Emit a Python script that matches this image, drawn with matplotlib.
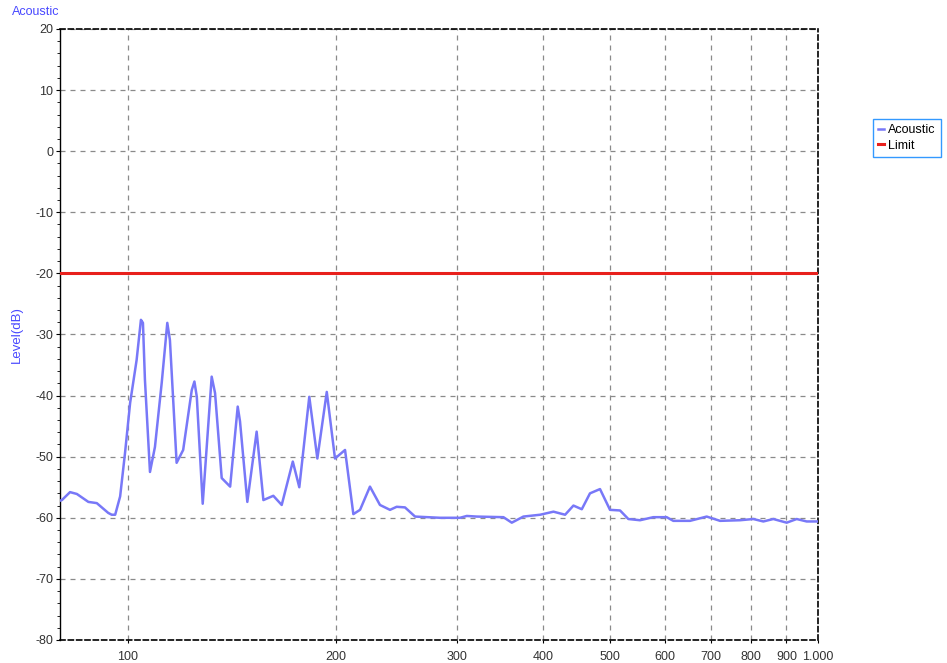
import matplotlib.pyplot as plt
from matplotlib.ticker import FixedLocator, MultipleLocator, NullFormatter

plt.rcParams['font.family'] = ['Liberation Sans', 'DejaVu Sans']
plt.rcParams['axes.unicode_minus'] = False

# measured spectrum (Hz, dB)
freq = [79.7, 80.2, 82.4, 84.3, 87.6, 90.1, 93.6, 94.7, 95.8, 97.4, 99.0,
        100.7, 102.9, 104.4, 105.1, 105.8, 107.6, 109.4, 111.9, 114.0, 115.0,
        117.6, 120.2, 123.7, 124.8, 125.8, 128.3, 132.2, 133.7, 136.7, 140.6,
        144.2, 145.3, 148.9, 153.6, 157.1, 162.4, 167.0, 173.3, 177.1, 183.1,
        188.1, 194.1, 199.5, 206.3, 212.1, 216.9, 224.2, 231.8, 239.7, 245.1,
        252.0, 260.6, 283.3, 302.8, 309.7, 320.2, 350.0, 359.9, 374.1, 395.6,
        413.6, 430.0, 442.1, 454.6, 467.2, 483.1, 499.5, 516.5, 531.0, 552.1,
        577.1, 603.5, 617.0, 652.3, 689.7, 721.1, 770.9, 805.8, 833.2, 861.4,
        900.7, 931.3, 962.9, 1000.0]
level = [-57.2, -57.1, -55.8, -56.1, -57.4, -57.6, -59.2, -59.5, -59.5, -56.5, -49.4,
         -41.2, -34.2, -27.6, -28.1, -37.4, -52.5, -48.4, -37.9, -28.1, -30.9,
         -51.0, -48.9, -39.1, -37.7, -40.2, -57.7, -36.9, -39.6, -53.5, -54.9,
         -41.8, -44.2, -57.4, -45.9, -57.1, -56.4, -57.9, -50.8, -55.0, -40.2,
         -50.3, -39.4, -50.3, -48.9, -59.4, -58.7, -54.9, -57.9, -58.7, -58.2,
         -58.3, -59.8, -60.0, -60.0, -59.7, -59.8, -59.9, -60.8, -59.8, -59.5,
         -59.0, -59.5, -58.0, -58.6, -56.0, -55.3, -58.7, -58.8, -60.2, -60.4,
         -59.9, -59.9, -60.5, -60.5, -59.8, -60.5, -60.4, -60.2, -60.6, -60.2,
         -60.8, -60.2, -60.6, -60.6]
limit_db = -20

xticks = [100, 200, 300, 400, 500, 600, 700, 800, 900, 1000]
xlabels = ['100', '200', '300', '400', '500', '600', '700', '800', '900', '1.000']

fig = plt.figure(figsize=(9.47, 6.63), dpi=100)
ax = fig.add_axes([0.0634, 0.0347, 0.8004, 0.9216])

ax.plot(freq, level, color='#7878f8', lw=1.8, label='Acoustic', zorder=3)
ax.axhline(limit_db, color='#e8201c', lw=2.2, label='Limit', zorder=3)

ax.set_xscale('log')
ax.set_xlim(79.7, 1000)
ax.set_ylim(-80, 20)

ax.xaxis.set_major_locator(FixedLocator(xticks))
ax.set_xticklabels(xlabels)
ax.xaxis.set_minor_locator(FixedLocator([]))
ax.xaxis.set_minor_formatter(NullFormatter())
ax.yaxis.set_major_locator(MultipleLocator(10))
ax.yaxis.set_minor_locator(MultipleLocator(2))

ax.tick_params(axis='both', labelsize=9, labelcolor='#333333', direction='out')
ax.tick_params(axis='y', which='major', length=3, pad=2)
ax.tick_params(axis='y', which='minor', length=2)
ax.tick_params(axis='x', which='major', length=2, pad=6)

ax.grid(True, which='major', color='#8a8a8a', ls=(0, (4, 4)), lw=0.9)

for side in ['top', 'bottom', 'right']:
    ax.spines[side].set_linestyle((0, (3, 2)))
    ax.spines[side].set_linewidth(1.2)
ax.spines['left'].set_linewidth(1.0)

fig.text(0.013, 0.982, 'Acoustic', color='#4848ff', fontsize=9, va='center')
fig.text(0.018, 0.495, 'Level(dB)', color='#4848ff', fontsize=9.5,
         rotation=90, ha='center', va='center')

leg = fig.legend(loc='upper left', bbox_to_anchor=(0.9155, 0.83), fontsize=9,
                 handlelength=0.5, handletextpad=0.3, borderpad=0.4,
                 labelspacing=0.3, fancybox=False, framealpha=1)
leg.get_frame().set_edgecolor('#3399ff')
leg.get_frame().set_linewidth(1.0)

fig.savefig('out.png', dpi=100)
